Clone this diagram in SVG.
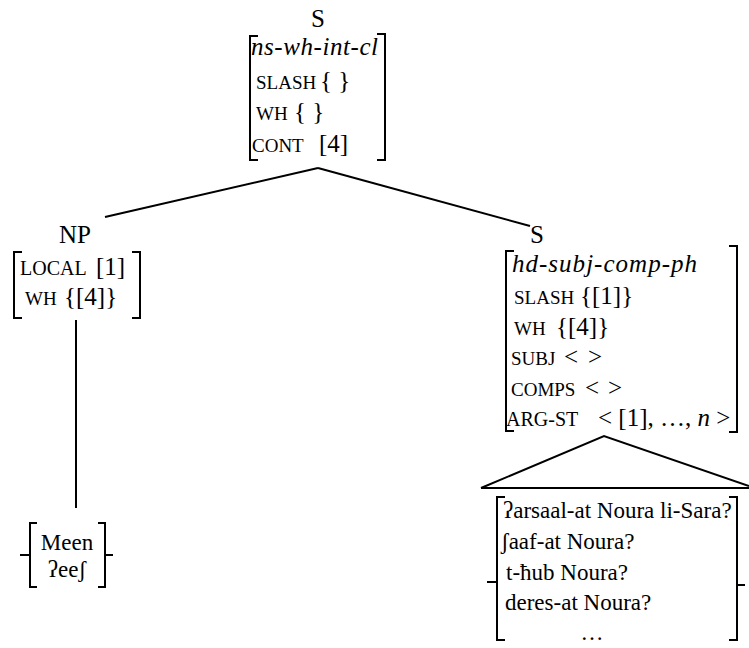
<svg xmlns="http://www.w3.org/2000/svg" width="749" height="648" viewBox="0 0 749 648">
  <style>
    text { font-family: "Liberation Serif", "Times New Roman", serif; font-size: 25px; fill: #000; }
    .it { font-style: italic; }
    .sc { font-size: 19px; }
    .ex { font-size: 23px; font-family: "Liberation Serif", "DejaVu Serif", serif; }
    .br { fill: none; stroke: #000; stroke-width: 2; stroke-linejoin: miter; stroke-linecap: butt; }
    .edge { fill: none; stroke: #000; stroke-width: 2; }
  </style>

  <!-- tree branches -->
  <g id="connectors">
    <path class="edge" d="M318,168 L105,217"/>
    <path class="edge" d="M318,168 L530,226"/>
    <path class="edge" d="M76,320 V508"/>
    <path class="edge" d="M481,488 L604,436 L749,486"/>
    <path class="edge" d="M481,488 H749"/>
  </g>

  <!-- root clause -->
  <g id="node-root">
    <text x="318" y="27" text-anchor="middle">S</text>
    <path class="br" d="M258,36 H250 V160 H258"/>
    <path class="br" d="M377,34 H385 V160 H377"/>
    <text class="it" x="251" y="55" textLength="127">ns-wh-int-cl</text>
    <text x="256" y="89"><tspan class="sc">SLASH</tspan><tspan x="320">{  }</tspan></text>
    <text x="256" y="120"><tspan class="sc">WH</tspan><tspan x="294">{  }</tspan></text>
    <text x="252" y="152"><tspan class="sc">CONT</tspan><tspan x="319">[4]</tspan></text>
  </g>

  <!-- fronted wh-phrase -->
  <g id="node-np">
    <text x="75" y="243" text-anchor="middle">NP</text>
    <path class="br" d="M22,252 H14 V318 H22"/>
    <path class="br" d="M132,252 H140 V318 H132"/>
    <text x="20" y="275"><tspan class="sc" style="font-size:20px">LOCAL</tspan><tspan x="96">[1]</tspan></text>
    <text x="25" y="305"><tspan class="sc">WH</tspan><tspan x="64">{[4]}</tspan></text>
  </g>

  <!-- lexical choices for the wh-word -->
  <g id="node-meen">
    <path class="br" d="M37,523 H30 V587 H37 M30,555 H20"/>
    <path class="br" d="M98,523 H105 V587 H98 M105,555 H113"/>
    <text class="ex" x="67" y="550" text-anchor="middle">Meen</text>
    <text class="ex" x="67" y="577" text-anchor="middle">ʔeeʃ</text>
  </g>

  <!-- head-subject-complement clause -->
  <g id="node-s">
    <text x="537" y="243" text-anchor="middle">S</text>
    <path class="br" d="M514,251 H506 V431 H514"/>
    <path class="br" d="M729,246 H737 V432 H729"/>
    <text class="it" x="512" y="272" textLength="185">hd-subj-comp-ph</text>
    <text x="514" y="304"><tspan class="sc">SLASH</tspan><tspan x="580">{[1]}</tspan></text>
    <text x="514" y="335"><tspan class="sc">WH</tspan><tspan x="556">{[4]}</tspan></text>
    <text x="511" y="365"><tspan class="sc">SUBJ</tspan><tspan x="564">&lt;</tspan><tspan x="588">&gt;</tspan></text>
    <text x="511" y="396"><tspan class="sc">COMPS</tspan><tspan x="585">&lt;</tspan><tspan x="608">&gt;</tspan></text>
    <text x="506" y="426"><tspan class="sc" style="font-size:20px">ARG-ST</tspan><tspan x="598">&lt; [1], …, </tspan><tspan class="it">n</tspan><tspan> &gt;</tspan></text>
  </g>

  <!-- realised sentences -->
  <g id="node-sentences">
    <path class="br" d="M505,497 H497 V640 H505 M497,582 H487"/>
    <path class="br" d="M729,497 H737 V640 H729 M737,585 H745"/>
    <text class="ex" x="503" y="518">ʔarsaal-at Noura li-Sara?</text>
    <text class="ex" x="501" y="549">ʃaaf-at Noura?</text>
    <text class="ex" x="506" y="580">t-ħub Noura?</text>
    <text class="ex" x="505" y="610">deres-at Noura?</text>
    <text class="ex" x="592" y="640" text-anchor="middle">…</text>
  </g>
</svg>
